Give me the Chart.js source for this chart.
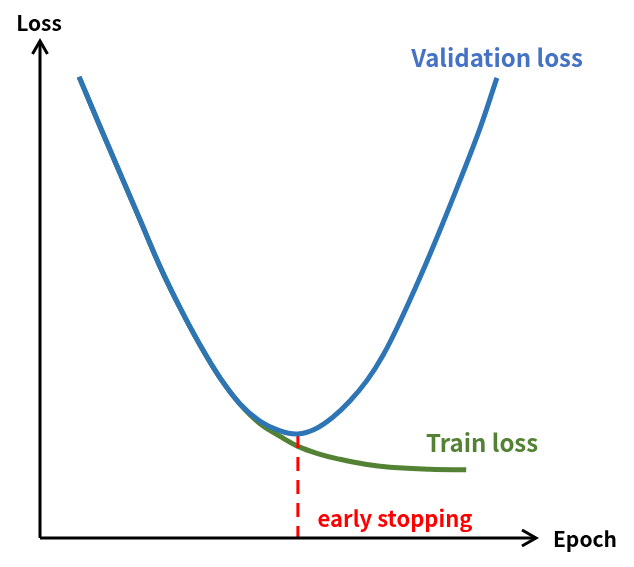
<!DOCTYPE html>
<html>
<head>
<meta charset="utf-8">
<script src="https://cdn.jsdelivr.net/npm/chart.js@4"></script>
<style>
  html, body { margin: 0; padding: 0; background: #fff; }
  #wrap { width: 634px; height: 567px; }
</style>
</head>
<body>
<div id="wrap"><canvas id="lossChart" width="634" height="567"></canvas></div>
<script>
// curve points (epoch, loss) on a 0-100 scale
const valEpochs   = [7.9, 12.1, 20.2, 24.2, 28.3, 32.3, 36.4, 40.4, 44.4, 48.5, 52.1, 55.6, 59.2, 62.6, 66.1, 69.3, 72.7, 76.8, 80.8, 84.8, 88.9, 92.3];
const valLoss     = [92.6, 82.7, 63.9, 54.6, 46.2, 38.8, 32.1, 26.9, 23.5, 21.5, 20.9, 21.9, 24.3, 27.5, 31.7, 36.7, 43.4, 52.4, 61.8, 71.7, 82.3, 92.4];

const trainEpochs = [7.9, 12.1, 20.2, 24.2, 28.3, 32.3, 36.4, 40.4, 44.4, 48.5, 52.1, 56.6, 60.6, 65.7, 70.7, 78.8, 86.1];
const trainLoss   = [92.6, 82.7, 63.9, 54.6, 46.2, 38.8, 32.1, 26.9, 23.0, 20.4, 18.4, 16.8, 15.8, 14.8, 14.2, 13.8, 13.7];

// early stopping marker: epoch of the validation minimum
const stopEpoch = 52.1;
const stopLoss  = [20.9, 0];

const labels = {
  yAxis: "Loss",
  xAxis: "Epoch",
  val: "Validation loss",
  train: "Train loss",
  stop: "early stopping"
};

const toXY = (xs, ys) => xs.map((x, i) => ({ x: x, y: ys[i] }));

const FONT = '"Noto Sans CJK KR", "Noto Sans", sans-serif';

// axes with arrow heads + the text labels
const decorPlugin = {
  id: "decor",
  afterDatasetsDraw(chart) {
    const { ctx, chartArea: a } = chart;
    const left = a.left, bottom = a.bottom;
    ctx.save();
    ctx.strokeStyle = "#000";
    ctx.lineWidth = 3;
    ctx.lineCap = "butt";
    ctx.lineJoin = "miter";

    ctx.beginPath();
    ctx.moveTo(left, bottom);
    ctx.lineTo(left, a.top + 1);
    ctx.moveTo(left, bottom);
    ctx.lineTo(a.right + 1, bottom);
    ctx.stroke();

    // arrow heads
    ctx.beginPath();
    ctx.moveTo(left - 7.5, a.top + 14);
    ctx.lineTo(left, a.top + 1);
    ctx.lineTo(left + 7.5, a.top + 14);
    ctx.moveTo(a.right - 13, bottom - 8);
    ctx.lineTo(a.right + 1, bottom);
    ctx.lineTo(a.right - 13, bottom + 8);
    ctx.stroke();

    ctx.textBaseline = "alphabetic";
    ctx.textAlign = "center";

    ctx.fillStyle = "#000";
    ctx.font = "bold 21px " + FONT;
    ctx.fillText(labels.yAxis, 39, 31);
    ctx.fillText(labels.xAxis, 585, 547);

    ctx.fillStyle = "#4472C4";
    ctx.font = "bold 24px " + FONT;
    ctx.fillText(labels.val, 497, 67);

    ctx.fillStyle = "#548235";
    ctx.font = "bold 24px " + FONT;
    ctx.fillText(labels.train, 482, 452);

    ctx.fillStyle = "#FF0000";
    ctx.font = "bold 22px " + FONT;
    ctx.fillText(labels.stop, 395, 527);
    ctx.restore();
  }
};

new Chart(document.getElementById("lossChart"), {
  type: "line",
  data: {
    datasets: [
      {
        label: labels.val,
        data: toXY(valEpochs, valLoss),
        borderColor: "#2E75B6",
        borderWidth: 5,
        pointRadius: 0,
        tension: 0.4,
        order: 0
      },
      {
        label: labels.stop,
        data: stopLoss.map(y => ({ x: stopEpoch, y: y })),
        borderColor: "#FF0000",
        borderWidth: 3,
        borderDash: [14, 9],
        pointRadius: 0,
        order: 1
      },
      {
        label: labels.train,
        data: toXY(trainEpochs, trainLoss),
        borderColor: "#548235",
        borderWidth: 5,
        pointRadius: 0,
        tension: 0.4,
        order: 2
      }
    ]
  },
  options: {
    responsive: false,
    animation: false,
    layout: { padding: { left: 40, top: 40, right: 99, bottom: 29 } },
    scales: {
      x: { type: "linear", min: 0, max: 100, display: false },
      y: { type: "linear", min: 0, max: 100, display: false }
    },
    plugins: {
      legend: { display: false },
      tooltip: { enabled: false }
    }
  },
  plugins: [decorPlugin]
});
</script>
</body>
</html>
